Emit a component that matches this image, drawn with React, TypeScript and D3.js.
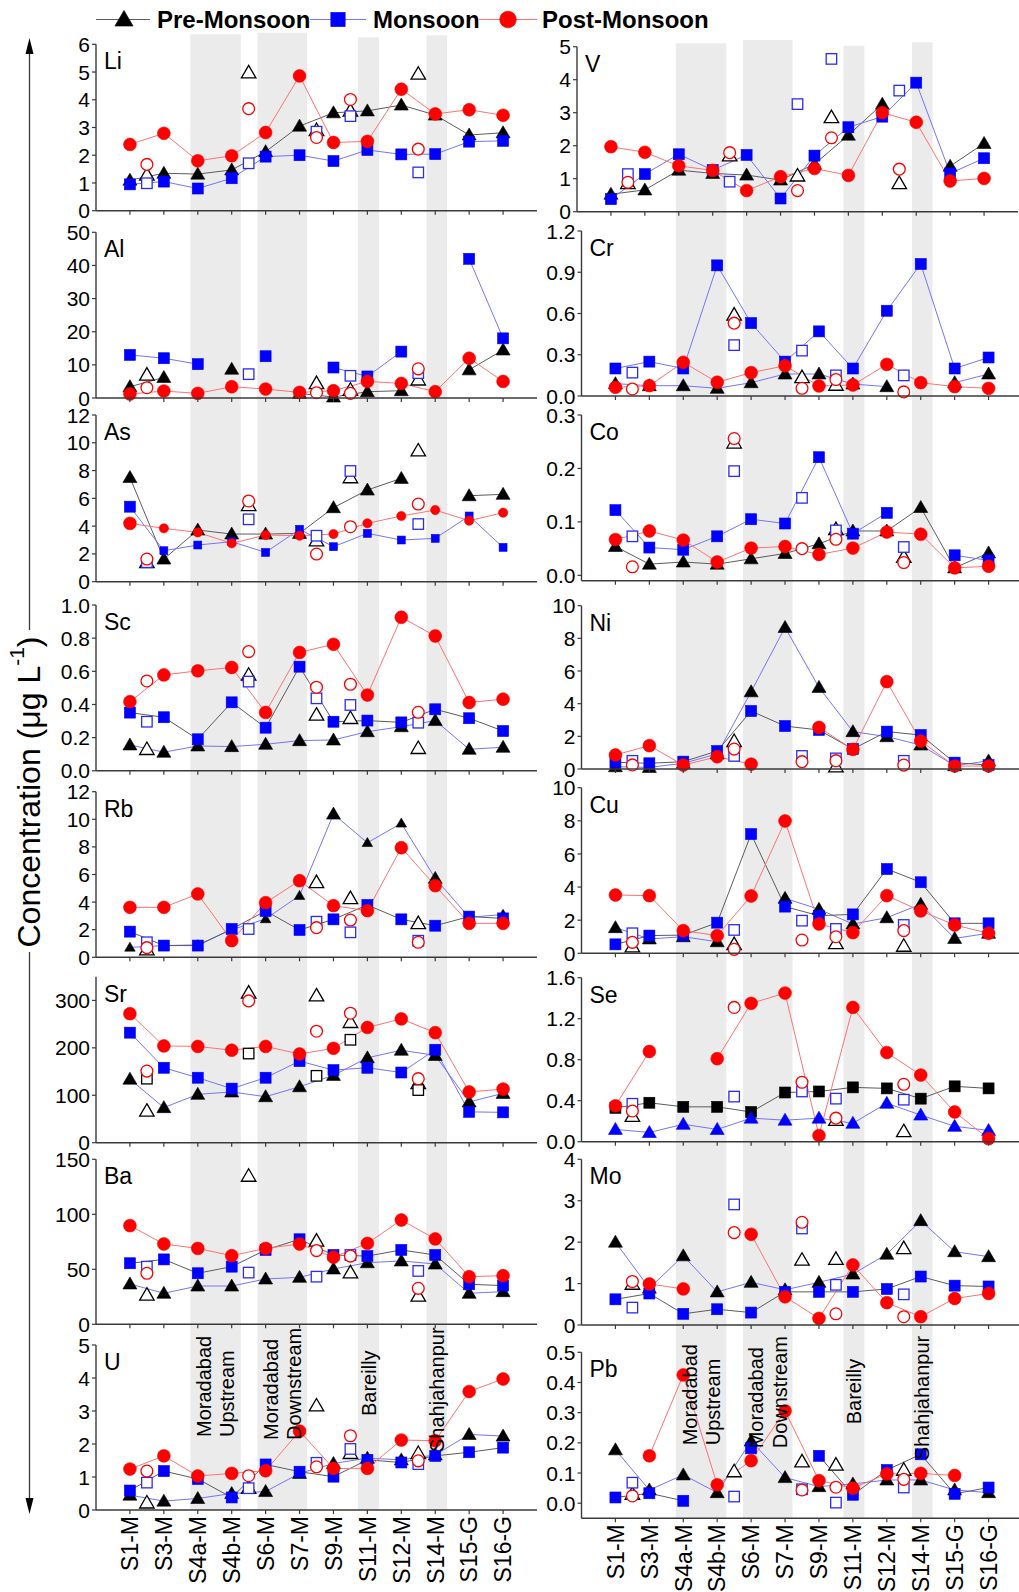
import React from "react";
import * as d3 from "d3";

// ---------------- DATA ----------------
const categories = ["S1-M", "S3-M", "S4a-M", "S4b-M", "S6-M", "S7-M", "S9-M", "S11-M", "S12-M", "S14-M", "S15-G", "S16-G"];
const hollowPositions = [0.5, 3.5, 5.5, 6.5, 8.5];
const seasons = ["Pre-Monsoon", "Monsoon", "Post-Monsoon"];
const bandRanges = [[1.78, 3.27], [3.76, 5.22], [6.72, 7.34], [8.74, 9.35]];
const bandLabels = [["Moradabad", "Upstream"], ["Moradabad", "Downstream"], ["Bareilly"], ["Shahjahanpur"]];
const leftElements = ["Li", "Al", "As", "Sc", "Rb", "Sr", "Ba", "U"];
const rightElements = ["V", "Cr", "Co", "Ni", "Cu", "Se", "Mo", "Pb"];

type V = number | null;

// Li
const liTicks = ["0", "1", "2", "3", "4", "5", "6"];
const liPre: V[] = [1.1, 1.35, 1.32, 1.47, 2.13, 3.05, 3.53, 3.6, 3.81, 3.45, 2.73, 2.81];
const liMon: V[] = [0.95, 1.05, 0.8, 1.17, 1.95, 2.0, 1.79, 2.19, 2.03, 2.04, 2.49, 2.52];
const liPost: V[] = [2.39, 2.79, 1.8, 1.98, 2.82, 4.86, 2.46, 2.5, 4.38, 3.49, 3.64, 3.44];
const liPreH: V[] = [1.29, 4.98, 2.9, 3.6, 4.93];
const liMonH: V[] = [0.99, 1.71, 2.85, 3.41, 1.38];
const liPostH: V[] = [1.67, 3.68, 2.64, 4.01, 2.22];
// Al
const alTicks = ["0", "10", "20", "30", "40", "50"];
const alPre: V[] = [3.4, 6.2, null, 8.7, null, 1.4, 0.3, 1.9, 2.2, null, 8.5, 14.5];
const alMon: V[] = [13, 12, 10.2, null, 12.6, null, 9.2, 6.5, 14, null, 42, 18];
const alPost: V[] = [1.2, 2.1, 1.4, 3.4, 2.7, 1.7, 2.2, 5, 4.4, 1.9, 12, 5];
const alPreH: V[] = [7, null, 4.4, 2.4, 5.5];
const alMonH: V[] = [null, 7.2, null, 6.7, 7.5];
const alPostH: V[] = [3.1, null, 1.6, 1.4, 8.8];
// As
const asTicks = ["0", "2", "4", "6", "8", "10", "12"];
const asPre: V[] = [7.5, 1.63, 3.72, 3.43, 3.43, 3.48, 5.33, 6.6, 7.44, null, 6.19, 6.29];
const asMon: V[] = [5.4, 2.23, 2.64, 2.88, 2.11, 3.77, 2.52, 3.48, 3.0, 3.12, 4.73, 2.47];
const asPost: V[] = [4.2, 3.84, 3.55, 2.76, 3.36, 3.31, 3.43, 4.2, 4.73, 5.16, 4.39, 4.97];
const asPreH: V[] = [1.39, 5.5, 2.95, 7.5, 9.43];
const asMonH: V[] = [1.4, 4.49, 3.31, 7.97, 4.15];
const asPostH: V[] = [1.63, 5.81, 1.99, 3.96, 5.59];
// Sc
const scTicks = ["0.0", "0.2", "0.4", "0.6", "0.8", "1.0"];
const scPre: V[] = [0.156, 0.112, 0.15, 0.146, 0.16, 0.182, 0.186, 0.236, 0.266, 0.303, 0.13, 0.142];
const scMon: V[] = [0.351, 0.323, 0.19, 0.413, 0.26, 0.628, 0.296, 0.303, 0.292, 0.371, 0.317, 0.24];
const scPost: V[] = [0.417, 0.578, 0.603, 0.623, 0.352, 0.714, 0.763, 0.457, 0.926, 0.813, 0.412, 0.432];
const scPreH: V[] = [0.13, 0.578, 0.337, 0.317, 0.136];
const scMonH: V[] = [0.296, 0.538, 0.437, 0.397, 0.29];
const scPostH: V[] = [0.542, 0.719, 0.504, 0.522, 0.353];
// Rb
const rbTicks = ["0", "2", "4", "6", "8", "10", "12"];
const rbPre: V[] = [0.72, 0.85, 0.9, 2.0, 2.78, 4.47, 10.38, 8.3, 9.71, 5.72, 2.9, 3.1];
const rbMon: V[] = [1.86, 0.85, 0.85, 2.05, 3.36, 1.98, 2.75, 3.79, 2.75, 2.29, 2.95, 2.82];
const rbPost: V[] = [3.62, 3.62, 4.59, 1.21, 3.96, 5.55, 3.74, 3.38, 7.94, 5.19, 2.46, 2.46];
const rbPreH: V[] = [0.55, null, 5.43, 4.27, 2.46];
const rbMonH: V[] = [1.09, 2.05, 2.58, 1.81, 1.2];
const rbPostH: V[] = [0.7, null, 2.15, 2.7, 1.09];
// Sr
const srTicks = ["0", "100", "200", "300"];
const srPre: V[] = [134, 74, 102, 107, 97, 118, 142, 179, 195, 184, 86, 104];
const srMon: V[] = [232, 158, 137, 114, 137, 172, 153, 158, 148, 196, 65, 64];
const srPost: V[] = [272, 204, 203, 195, 203, 187, 199, 243, 261, 232, 107, 113];
const srPreH: V[] = [67, 316, 310, 254, 125];
const srMonH: V[] = [135, 188, 141, 217, 111];
const srPostH: V[] = [151, 299, 235, 273, 135];
// Ba
const baTicks = ["0", "50", "100", "150"];
const baPre: V[] = [36.7, 28.2, 34.8, 34.8, 41.2, 42.7, 50.3, 56, 57.6, 54.8, 28.2, 29.7];
const baMon: V[] = [55.5, 59, 46.4, 52.4, 67.6, 77.3, 63, 62, 67.6, 63, 36.4, 35.2];
const baPost: V[] = [89.7, 73, 69, 62.4, 69, 73, 61, 73.6, 94.8, 77.6, 43.3, 44.2];
const baPreH: V[] = [26.7, 134.8, 75.8, 47, 25.8];
const baMonH: V[] = [52.4, 47, 43.3, 63, 48.5];
const baPostH: V[] = [46.4, null, 67, 62, 32.7];
// U
const uTicks = ["0", "1", "2", "3", "4", "5"];
const uPre: V[] = [0.45, 0.27, 0.35, 0.5, 0.56, 1.11, 1.41, 1.57, 1.52, 1.67, 2.29, 2.24];
const uMon: V[] = [0.59, 1.18, 0.94, 0.38, 1.38, 1.16, 1.01, 1.52, 1.44, 1.64, 1.75, 1.89];
const uPost: V[] = [1.24, 1.64, 1.03, 1.11, 1.19, 2.39, 1.26, 1.26, 2.12, 2.1, 3.59, 3.97];
const uPreH: V[] = [0.22, 0.66, 3.16, 1.72, 1.72];
const uMonH: V[] = [0.83, 0.66, 1.43, 1.85, 1.39];
const uPostH: V[] = [1.18, 1.04, 1.31, 2.25, 1.49];
// V
const vTicks = ["0", "1", "2", "3", "4", "5"];
const vPre: V[] = [0.53, 0.66, 1.26, 1.16, 1.11, 0.96, 1.44, 2.32, 3.26, null, 1.38, 2.07];
const vMon: V[] = [0.38, 1.14, 1.74, 1.26, 1.72, 0.4, 1.7, 2.56, 2.88, 3.91, 1.16, 1.62];
const vPost: V[] = [1.97, 1.8, 1.39, 1.25, 0.64, 1.06, 1.31, 1.1, 3.0, 2.71, 0.93, 1.01];
const vPreH: V[] = [0.86, 1.7, 1.09, 2.86, 0.86];
const vMonH: V[] = [1.14, 0.91, 3.26, 4.63, 3.67];
const vPostH: V[] = [0.89, 1.79, 0.64, 2.24, 1.29];
// Cr
const crTicks = ["0.0", "0.3", "0.6", "0.9", "1.2"];
const crPre: V[] = [0.09, 0.075, 0.075, 0.056, 0.097, 0.16, 0.16, 0.087, 0.068, null, 0.097, 0.16];
const crMon: V[] = [0.2, 0.25, 0.2, 0.95, 0.53, 0.25, 0.47, 0.2, 0.62, 0.96, 0.2, 0.28];
const crPost: V[] = [0.063, 0.075, 0.245, 0.1, 0.17, 0.22, 0.073, 0.08, 0.23, 0.097, 0.068, 0.056];
const crPreH: V[] = [null, 0.59, 0.136, 0.08, null];
const crMonH: V[] = [0.17, 0.37, 0.33, 0.15, 0.15];
const crPostH: V[] = [0.051, 0.53, 0.056, 0.12, 0.03];
// Co
const coTicks = ["0.0", "0.1", "0.2", "0.3"];
const coPre: V[] = [0.054, 0.021, 0.025, 0.021, 0.031, 0.041, 0.059, 0.083, 0.083, 0.127, 0.014, 0.042];
const coMon: V[] = [0.122, 0.052, 0.048, 0.073, 0.105, 0.097, 0.221, 0.078, 0.117, null, 0.0375, 0.028];
const coPost: V[] = [0.067, 0.083, 0.066, 0.025, 0.051, 0.054, 0.039, 0.051, 0.081, 0.077, 0.014, 0.017];
const coPreH: V[] = [null, 0.248, null, 0.086, 0.034];
const coMonH: V[] = [0.073, 0.195, 0.145, 0.084, 0.053];
const coPostH: V[] = [0.016, 0.256, 0.05, 0.0675, 0.024];
// Ni
const niTicks = ["0", "2", "4", "6", "8", "10"];
const niPre: V[] = [0.14, 0.1, 0.35, 0.92, 4.73, 8.67, 5.0, 2.29, 1.98, 1.47, 0.2, 0.5];
const niMon: V[] = [0.41, 0.35, 0.45, 1.1, 3.55, 2.63, 2.39, 1.22, 2.29, 2.08, 0.39, 0.24];
const niPost: V[] = [0.86, 1.43, 0.24, 0.75, 0.3, null, 2.55, 1.2, 5.35, 1.71, 0.18, 0.18];
const niPreH: V[] = [null, 1.7, null, 0.14, null];
const niMonH: V[] = [0.5, 0.8, 0.8, 0.65, 0.5];
const niPostH: V[] = [0.25, 1.22, 0.45, 0.51, 0.24];
// Cu
const cuTicks = ["0", "2", "4", "6", "8", "10"];
const cuPre: V[] = [1.55, 0.87, 1.0, 0.7, null, 3.32, 2.66, 1.77, 2.15, 2.96, 0.9, 1.21];
const cuMon: V[] = [0.54, 1.07, 1.1, 1.85, 7.2, 2.82, 2.27, 2.35, 5.09, 4.29, 1.81, 1.81];
const cuPost: V[] = [3.52, 3.48, 1.37, 1.07, 3.46, 7.99, 1.77, 1.25, 3.48, 2.56, 1.71, 1.21];
const cuPreH: V[] = [0.4, 0.54, null, 0.6, 0.44];
const cuMonH: V[] = [1.21, 1.41, 1.97, 1.47, 1.71];
const cuPostH: V[] = [0.66, 0.24, 0.8, 1.0, 1.37];
// Se
const seTicks = ["0.0", "0.4", "0.8", "1.2", "1.6"];
const sePre: V[] = [0.33, 0.38, 0.34, 0.34, 0.29, 0.48, 0.49, 0.53, 0.52, 0.42, 0.54, 0.52];
const seMon: V[] = [0.12, 0.09, 0.17, 0.12, 0.23, 0.21, 0.23, 0.18, 0.375, 0.26, 0.15, 0.11];
const sePost: V[] = [0.35, 0.88, null, 0.81, 1.35, 1.45, 0.06, 1.31, 0.87, 0.65, 0.29, 0.03];
const sePreH: V[] = [0.25, null, null, 0.21, 0.1];
const seMonH: V[] = [0.37, 0.44, 0.49, 0.42, 0.41];
const sePostH: V[] = [0.3, 1.31, 0.58, 0.23, 0.56];
// Mo
const moTicks = ["0", "1", "2", "3", "4"];
const moPre: V[] = [2.0, 0.89, 1.67, 0.8, 1.03, 0.85, 1.03, 1.23, 1.71, 2.52, 1.77, 1.65];
const moMon: V[] = [0.62, 0.76, 0.27, 0.38, 0.3, 0.8, 0.8, 0.8, 0.87, 1.17, 0.95, 0.93];
const moPost: V[] = [null, 0.99, 0.87, null, 2.19, 0.68, 0.16, 1.45, 0.54, 0.2, 0.64, 0.76];
const moPreH: V[] = [0.99, null, 1.57, 1.59, 1.85];
const moMonH: V[] = [0.42, 2.91, 2.33, 0.97, 0.74];
const moPostH: V[] = [1.05, 2.23, 2.48, 0.27, 0.2];
// Pb
const pbTicks = ["0.0", "0.1", "0.2", "0.3", "0.4", "0.5"];
const pbPre: V[] = [0.177, 0.044, 0.094, 0.035, 0.206, 0.085, 0.055, 0.064, 0.077, 0.077, 0.044, 0.035];
const pbMon: V[] = [0.019, 0.033, 0.008, null, 0.182, null, 0.157, 0.028, 0.11, 0.162, 0.031, 0.052];
const pbPost: V[] = [null, 0.157, 0.425, 0.061, 0.141, 0.306, 0.075, 0.05, 0.097, 0.099, 0.092, null];
const pbPreH: V[] = [0.03, 0.105, 0.138, 0.127, 0.11];
const pbMonH: V[] = [0.068, 0.022, 0.046, 0.002, 0.052];
const pbPostH: V[] = [0.024, null, 0.044, 0.053, 0.079];

// axis domains
const yDomains: Record<string, [number, number]> = {
  Li: [0, 6], Al: [0, 50], As: [0, 12], Sc: [0, 1], Rb: [0, 12], Sr: [0, 350], Ba: [0, 150], U: [0, 5],
  V: [0, 5], Cr: [0, 1.2], Co: [-0.01, 0.3], Ni: [0, 10], Cu: [0, 10], Se: [0, 1.6], Mo: [0, 4], Pb: [-0.05, 0.5],
};

// per-panel style quirks of the original figure
const preBlueLine = ["Sc", "Rb", "Sr", "Ba", "U", "Cr", "Ni", "Cu", "Mo", "Pb"];
const monGreyLine = ["Sc", "Rb", "Ba", "U", "Ni", "Cu", "Mo", "Pb"];
const shapeSwap = ["Se"];
const blackHollowMon = ["Sr"];

const table: Record<string, any> = {
  Li: { ticks: liTicks, s: [liPre, liMon, liPost], h: [liPreH, liMonH, liPostH] },
  Al: { ticks: alTicks, s: [alPre, alMon, alPost], h: [alPreH, alMonH, alPostH] },
  As: { ticks: asTicks, s: [asPre, asMon, asPost], h: [asPreH, asMonH, asPostH] },
  Sc: { ticks: scTicks, s: [scPre, scMon, scPost], h: [scPreH, scMonH, scPostH] },
  Rb: { ticks: rbTicks, s: [rbPre, rbMon, rbPost], h: [rbPreH, rbMonH, rbPostH] },
  Sr: { ticks: srTicks, s: [srPre, srMon, srPost], h: [srPreH, srMonH, srPostH] },
  Ba: { ticks: baTicks, s: [baPre, baMon, baPost], h: [baPreH, baMonH, baPostH] },
  U: { ticks: uTicks, s: [uPre, uMon, uPost], h: [uPreH, uMonH, uPostH] },
  V: { ticks: vTicks, s: [vPre, vMon, vPost], h: [vPreH, vMonH, vPostH] },
  Cr: { ticks: crTicks, s: [crPre, crMon, crPost], h: [crPreH, crMonH, crPostH] },
  Co: { ticks: coTicks, s: [coPre, coMon, coPost], h: [coPreH, coMonH, coPostH] },
  Ni: { ticks: niTicks, s: [niPre, niMon, niPost], h: [niPreH, niMonH, niPostH] },
  Cu: { ticks: cuTicks, s: [cuPre, cuMon, cuPost], h: [cuPreH, cuMonH, cuPostH] },
  Se: { ticks: seTicks, s: [sePre, seMon, sePost], h: [sePreH, seMonH, sePostH] },
  Mo: { ticks: moTicks, s: [moPre, moMon, moPost], h: [moPreH, moMonH, moPostH] },
  Pb: { ticks: pbTicks, s: [pbPre, pbMon, pbPost], h: [pbPreH, pbMonH, pbPostH] },
};

// ---------------- LAYOUT ----------------
const W = 1019, H = 1592;
const FONT = "'Liberation Sans', Arial, Helvetica, sans-serif";
const COLS = [
  { x0s: [96, 96, 96, 96, 96, 96, 96, 96], bandX0: 96, tops: [44.3, 232.3, 415, 605, 791.7, 976.7, 1159.3, 1345], bottoms: [210.7, 398, 581.7, 770.8, 957.3, 1142.7, 1324.3, 1510], bandTops: [34.3, 32.7, 37.3, 35.3], els: leftElements },
  { x0s: [577, 581.5, 581.5, 581.5, 581.5, 581.5, 581.5, 581.5], bandX0: 581.5, tops: [46.7, 231, 415, 605.7, 787.7, 977.7, 1159.3, 1352.3], bottoms: [211.7, 396, 580.7, 769, 953.3, 1141.7, 1325, 1518.3], bandTops: [43.3, 40, 45.7, 42.3], els: rightElements },
];
const PANEL_W = 441;
const labelOffsets = [-73, -70, -94, -58];
const FILL = ["#000000", "#0000ff", "#ff0000"];
const LINE_GREY = "#5c5c5c", LINE_BLUE = "#7474ff", LINE_RED = "#ff7272";
const AXIS = "#3a3a3a";

function tri(w: number, h: number) {
  return `M0,${-h * 0.58}L${w / 2},${h * 0.42}L${-w / 2},${h * 0.42}Z`;
}

function Marker(props: { shape: string; x: number; y: number; k?: number; hollow?: boolean; color: string }) {
  const { shape, x, y, hollow, color } = props;
  const k = props.k ?? 1;
  const fill = hollow ? "#ffffff" : color;
  const stroke = color;
  const sw = hollow ? 1.3 : 0.6;
  if (shape === "tri") {
    const w = (hollow ? 14.5 : 14) * k, h = (hollow ? 12.5 : 12) * k;
    return <path d={tri(w, h)} transform={`translate(${x},${y})`} fill={fill} stroke={stroke} strokeWidth={sw} />;
  }
  if (shape === "sq") {
    const s = (hollow ? 10.5 : 11) * k;
    return <rect x={x - s / 2} y={y - s / 2} width={s} height={s} fill={fill} stroke={stroke} strokeWidth={sw} />;
  }
  const r = (hollow ? 5.9 : 6.4) * k;
  return <circle cx={x} cy={y} r={r} fill={fill} stroke={stroke} strokeWidth={sw} />;
}

function Panel({ name, col, i }: { name: string; col: number; i: number }) {
  const c = COLS[col];
  const top = c.tops[i], bottom = c.bottoms[i];
  const x0 = c.x0s[i], x1 = x0 + PANEL_W;
  const d = table[name];
  const x = d3.scaleLinear().domain([-1, 12]).range([x0, x1]);
  const y = d3.scaleLinear().domain(yDomains[name]).range([bottom, top]);
  const line = d3
    .line<[number, V]>()
    .defined((p) => p[1] != null)
    .x((p) => x(p[0]))
    .y((p) => y(p[1] as number));
  const shapes = shapeSwap.includes(name) ? ["sq", "tri", "circ"] : ["tri", "sq", "circ"];
  const hollowShapes = ["tri", "sq", "circ"];
  const lineColors = [
    preBlueLine.includes(name) ? LINE_BLUE : LINE_GREY,
    monGreyLine.includes(name) ? LINE_GREY : LINE_BLUE,
    LINE_RED,
  ];
  const hollowColors = ["#000000", blackHollowMon.includes(name) ? "#000000" : "#2a2aff", "#ff0000"];
  const small = (s: number, j: number) => {
    if (name === "As" && (s === 1 || s === 2) && j !== 0) return 0.72;
    if (name === "Rb" && s === 0 && j !== 6 && j !== 9) return 0.75;
    return 1;
  };
  const isBottom = i === 7;
  return (
    <g>
      {d.s.map((vals: V[], s: number) => (
        <path key={"l" + s} d={line(vals.map((v, j) => [j, v] as [number, V])) || ""} fill="none" stroke={lineColors[s]} strokeWidth={1} />
      ))}
      {d.s.map((vals: V[], s: number) =>
        vals.map((v, j) =>
          v == null ? null : <Marker key={`f${s}-${j}`} shape={shapes[s]} x={x(j)} y={y(v)} k={small(s, j)} color={FILL[s]} />
        )
      )}
      {d.h.map((vals: V[], s: number) =>
        vals.map((v, j) =>
          v == null ? null : <Marker key={`h${s}-${j}`} shape={hollowShapes[s]} x={x(hollowPositions[j])} y={y(v)} hollow color={hollowColors[s]} />
        )
      )}
      <line x1={x0} x2={x0} y1={top} y2={bottom} stroke={AXIS} strokeWidth={1.4} />
      <line x1={x0} x2={x1} y1={bottom} y2={bottom} stroke={AXIS} strokeWidth={1.4} />
      {d.ticks.map((t: string) => (
        <g key={"yt" + t}>
          <line x1={x0 - 4} x2={x0} y1={y(+t)} y2={y(+t)} stroke={AXIS} strokeWidth={1.2} />
          <text x={x0 - 6} y={y(+t)} dy="0.36em" textAnchor="end" fontSize={21} fontFamily={FONT} fill="#000">
            {t}
          </text>
        </g>
      ))}
      {categories.map((cat, j) => (
        <line key={"xt" + j} x1={x(j)} x2={x(j)} y1={bottom} y2={bottom + 4} stroke={AXIS} strokeWidth={1.2} />
      ))}
      {isBottom &&
        categories.map((cat, j) => (
          <text
            key={"xl" + j}
            transform={`translate(${x(j)},${bottom + 6}) rotate(-90)`}
            dy="0.36em"
            textAnchor="end"
            fontSize={23}
            fontFamily={FONT}
            fill="#000"
          >
            {cat}
          </text>
        ))}
      <text x={x0 + 8} y={top + 25} fontSize={23} fontFamily={FONT} fill="#000">
        {name}
      </text>
      {isBottom &&
        bandRanges.map((b, k) => {
          const cx = (x(b[0]) + x(b[1])) / 2;
          const lines = bandLabels[k];
          return lines.map((txt, li) => {
            const lx = lines.length === 2 ? cx + (li === 0 ? -11.7 : 11.7) : cx;
            return (
              <text
                key={`bl${k}-${li}`}
                transform={`translate(${lx},${bottom + labelOffsets[k]}) rotate(-90)`}
                dy="0.36em"
                textAnchor="start"
                fontSize={20}
                fontFamily={FONT}
                fill="#000"
              >
                {txt}
              </text>
            );
          });
        })}
    </g>
  );
}

function Bands({ col }: { col: number }) {
  const c = COLS[col];
  const x = d3.scaleLinear().domain([-1, 12]).range([c.bandX0, c.bandX0 + PANEL_W]);
  const bottom = c.bottoms[7];
  return (
    <g>
      {bandRanges.map((b, k) => (
        <rect key={k} x={x(b[0])} y={c.bandTops[k]} width={x(b[1]) - x(b[0])} height={bottom - c.bandTops[k]} fill="#ebebeb" />
      ))}
    </g>
  );
}

function Legend() {
  const ly = 19.5;
  const items = [
    { x1: 96, x2: 150, mx: 124, tx: 157, shape: "tri", line: LINE_GREY },
    { x1: 310, x2: 366, mx: 338, tx: 373, shape: "sq", line: LINE_BLUE },
    { x1: 479, x2: 537, mx: 508, tx: 542, shape: "circ", line: LINE_RED },
  ];
  return (
    <g>
      {items.map((it, s) => (
        <g key={s}>
          <line x1={it.x1} x2={it.x2} y1={ly} y2={ly} stroke={it.line} strokeWidth={1.2} />
          <Marker shape={it.shape} x={it.mx} y={ly} k={1.3} color={FILL[s]} />
          <text x={it.tx} y={ly + 8.5} fontSize={24} fontWeight="bold" fontFamily={FONT} fill="#000">
            {seasons[s]}
          </text>
        </g>
      ))}
    </g>
  );
}

function YTitle() {
  const cx = 29.5;
  return (
    <g>
      <line x1={cx} x2={cx} y1={50} y2={630} stroke={AXIS} strokeWidth={1.3} />
      <path d={`M${cx},38 L${cx + 4},54 L${cx - 4},54 Z`} fill="#000" />
      <line x1={cx} x2={cx} y1={952} y2={1500} stroke={AXIS} strokeWidth={1.3} />
      <path d={`M${cx},1514 L${cx + 4},1498 L${cx - 4},1498 Z`} fill="#000" />
      <text transform={`translate(${cx - 1},792) rotate(-90)`} dy="0.36em" textAnchor="middle" fontSize={32} fontFamily={FONT} fill="#000">
        Concentration (μg L
        <tspan fontSize={21} dy="-0.75em">-1</tspan>
        <tspan dy="0.5em">)</tspan>
      </text>
    </g>
  );
}

export default function App() {
  return (
    <div style={{ position: "absolute", left: 0, top: 0 }}>
      <svg width={W} height={H} viewBox={`0 0 ${W} ${H}`} style={{ display: "block", background: "#fff" }}>
        <rect width={W} height={H} fill="#fff" />
        <Bands col={0} />
        <Bands col={1} />
        {COLS.map((c, col) => c.els.map((name, i) => <Panel key={name} name={name} col={col} i={i} />))}
        <Legend />
        <YTitle />
      </svg>
    </div>
  );
}
